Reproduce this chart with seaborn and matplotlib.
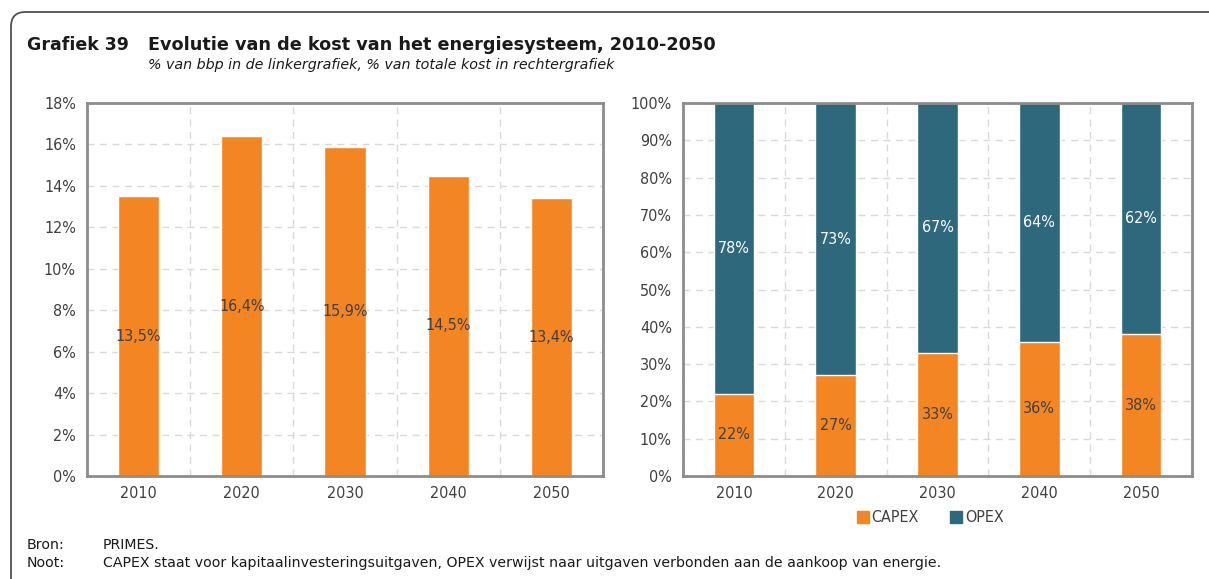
"""Grafiek 39: kost van het energiesysteem, 2010-2050."""

import matplotlib
matplotlib.use("Agg")
import matplotlib.pyplot as plt
from matplotlib.lines import Line2D
from matplotlib.patches import FancyBboxPatch
from matplotlib.ticker import FixedLocator, PercentFormatter
import seaborn as sns
import pandas as pd

# data
years = ["2010", "2020", "2030", "2040", "2050"]
cost_gdp = [13.5, 16.4, 15.9, 14.5, 13.4]        # % van bbp
capex_share = [22, 27, 33, 36, 38]               # % van totale kost
opex_share = [78, 73, 67, 64, 62]

ORANGE = "#F38523"
TEAL = "#2E687D"
SPINE = "#8C8C8C"
GRID = "#D9D9D9"
TXT = "#404040"

sns.set_style("white")
plt.rcParams["font.family"] = ["DejaVu Sans"]
TICK = {"family": ["DejaVu Sans"], "stretch": "condensed"}

fig = plt.figure(figsize=(12.09, 5.79), dpi=100)
W, H = 1209, 579


def px_axes(x0, y0, x1, y1):
    return fig.add_axes([x0 / W, 1 - y1 / H, (x1 - x0) / W, (y1 - y0) / H])


def style_axes(ax, ymax, step):
    ax.set_ylim(0, ymax)
    ax.set_xlim(-0.5, len(years) - 0.5)
    ax.yaxis.set_major_locator(FixedLocator(list(range(0, ymax + 1, step))))
    ax.yaxis.set_major_formatter(PercentFormatter(decimals=0))
    ax.xaxis.set_minor_locator(FixedLocator([i - 0.5 for i in range(len(years) + 1)]))
    ax.grid(axis="y", which="major", color=GRID, linestyle=(0, (5, 4)), linewidth=1)
    ax.grid(axis="x", which="minor", color=GRID, linestyle=(0, (5, 4)), linewidth=1)
    ax.grid(axis="x", which="major", visible=False)
    ax.set_axisbelow(True)
    for s in ax.spines.values():
        s.set_visible(True)
        s.set_color(SPINE)
        s.set_linewidth(2)
    ax.tick_params(axis="x", which="major", length=0, pad=7)
    ax.tick_params(axis="x", which="minor", length=6, width=1.5, color=SPINE, direction="out")
    ax.tick_params(axis="y", length=5, width=1.2, color=SPINE, direction="out", pad=3)
    ax.tick_params(labelcolor=TXT)
    for lab in ax.get_xticklabels() + ax.get_yticklabels():
        lab.set_family(TICK["family"])
        lab.set_stretch(TICK["stretch"])
        lab.set_fontsize(11.5)
    ax.set_xlabel("")
    ax.set_ylabel("")


# left chart: % van bbp
left = pd.DataFrame({"jaar": years, "kost": cost_gdp})
ax1 = px_axes(87, 103, 603, 476)
sns.barplot(data=left, x="jaar", y="kost", color=ORANGE, width=0.4,
            saturation=1, ax=ax1)
for i, v in enumerate(cost_gdp):
    ax1.text(i, v / 2, f"{v:.1f}%".replace(".", ","), ha="center", va="center",
             color=TXT, fontsize=11.5, **TICK)
style_axes(ax1, 18, 2)

# right chart: % van totale kost
right = pd.DataFrame({"jaar": years, "capex": capex_share, "opex": opex_share})
right["totaal"] = right["capex"] + right["opex"]
ax2 = px_axes(683, 103, 1192, 476)
sns.barplot(data=right, x="jaar", y="totaal", color=TEAL, width=0.4,
            saturation=1, ax=ax2)
sns.barplot(data=right, x="jaar", y="capex", color=ORANGE, width=0.4,
            saturation=1, ax=ax2)
for i, (c, o) in enumerate(zip(capex_share, opex_share)):
    ax2.text(i, c / 2, f"{c}%", ha="center", va="center", color=TXT,
             fontsize=11.5, **TICK)
    ax2.text(i, c + o / 2, f"{o}%", ha="center", va="center", color="white",
             fontsize=11.5, **TICK)
style_axes(ax2, 100, 10)

handles = [
    Line2D([], [], marker="s", linestyle="none", markersize=8, color=ORANGE, label="CAPEX"),
    Line2D([], [], marker="s", linestyle="none", markersize=8, color=TEAL, label="OPEX"),
]
fig.legend(handles=handles, loc="center", bbox_to_anchor=(929 / W, 1 - 518 / H),
           ncol=2, frameon=False, handletextpad=0.0, columnspacing=1.8,
           handlelength=1.1, prop={"family": TICK["family"], "stretch": "condensed",
                                   "size": 11.5}, labelcolor=TXT)

# titles
fig.text(27 / W, 1 - 45 / H, "Grafiek 39", fontsize=12.5, fontweight="bold",
         color="#1a1a1a", va="center")
fig.text(148 / W, 1 - 45 / H, "Evolutie van de kost van het energiesysteem, 2010-2050",
         fontsize=12.7, fontweight="bold", color="#1a1a1a", va="center")
fig.text(148 / W, 1 - 65 / H,
         "% van bbp in de linkergrafiek, % van totale kost in rechtergrafiek",
         fontsize=10.3, style="italic", color="#1a1a1a", va="center")

# footer
fig.text(27 / W, 1 - 545 / H, "Bron:", fontsize=10.2, color="#1a1a1a", va="center")
fig.text(103 / W, 1 - 545 / H, "PRIMES.", fontsize=10.2, color="#1a1a1a", va="center")
fig.text(27 / W, 1 - 563 / H, "Noot:", fontsize=10.2, color="#1a1a1a", va="center")
fig.text(103 / W, 1 - 563 / H,
         "CAPEX staat voor kapitaalinvesteringsuitgaven, OPEX verwijst naar uitgaven "
         "verbonden aan de aankoop van energie.",
         fontsize=10.2, color="#1a1a1a", va="center")

# outer box, only top and left edges visible
box = FancyBboxPatch((11 / W, -0.2), 1.2, 1 - 12 / H + 0.2,
                     boxstyle="round,pad=0,rounding_size=0.012",
                     transform=fig.transFigure, fill=False,
                     edgecolor="#505050", linewidth=1.3, mutation_aspect=W / H)
fig.patches.append(box)

fig.savefig("out.png", dpi=100)
